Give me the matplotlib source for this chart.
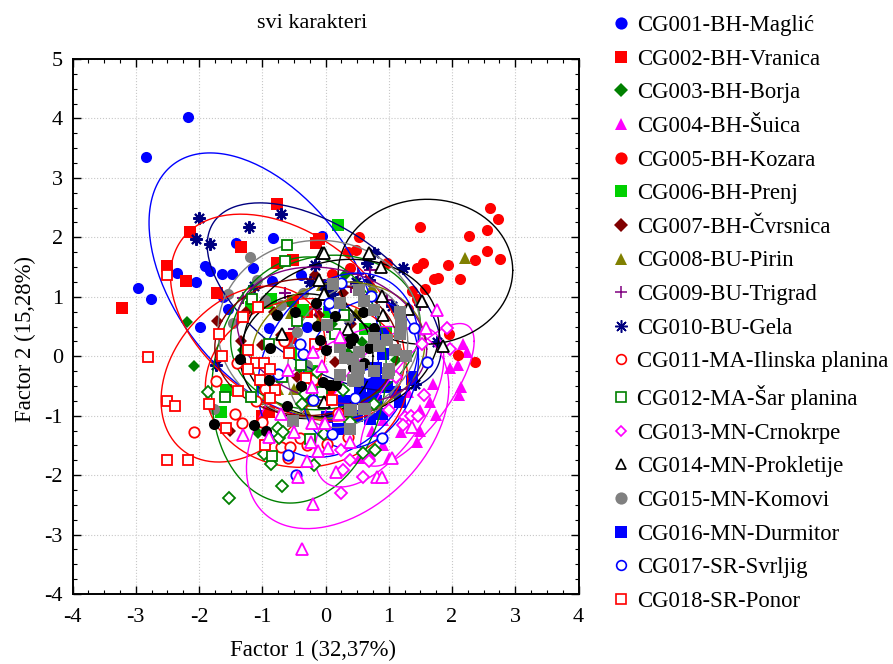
import numpy as np
import matplotlib
matplotlib.use("Agg")
import matplotlib.pyplot as plt
from matplotlib.lines import Line2D

plt.rcParams['font.family'] = ['Liberation Serif', 'DejaVu Serif']
plt.rcParams['axes.unicode_minus'] = False

names = ['CG001-BH-Maglić', 'CG002-BH-Vranica', 'CG003-BH-Borja', 'CG004-BH-Šuica',
         'CG005-BH-Kozara', 'CG006-BH-Prenj', 'CG007-BH-Čvrsnica', 'CG008-BU-Pirin',
         'CG009-BU-Trigrad', 'CG010-BU-Gela', 'CG011-MA-Ilinska planina',
         'CG012-MA-Šar planina', 'CG013-MN-Crnokrpe', 'CG014-MN-Prokletije',
         'CG015-MN-Komovi', 'CG016-MN-Durmitor', 'CG017-SR-Svrljig', 'CG018-SR-Ponor']

# factor scores
x01 = [-2.17, -2.84, -2.97, -2.76, -2.34, -1.91, -1.82, -2.05, -1.64, -1.48, -1.42, -1.15, -0.83, -0.84, -0.39, -0.05, -1.62, -1.54, -1.98, -0.9, -0.3, 0.1]
y01 = [4.02, 3.35, 1.14, 0.97, 1.40, 1.51, 1.44, 1.25, 1.39, 1.38, 1.91, 1.48, 1.99, 1.26, 1.36, 2.03, 0.99, 0.79, 0.49, 0.47, 0.5, 0.9]
x02 = [-3.22, -2.5, -2.21, -2.14, -1.33, -1.72, -0.77, -0.11, -0.15, -0.51, -0.76, -0.52, -0.3, -0.9, -1.0, 0.05, -0.25, -0.55]
y02 = [0.81, 1.52, 1.27, 2.09, 1.83, 1.07, 2.56, 1.97, 1.9, 1.62, 1.56, 0.93, 0.75, -0.93, -1.0, -0.6, -0.75, 0.3]
x03 = [-2.19, -2.08, -1.06, 1.12, 0.57, 0.31, -0.7, -0.4, 0.1, 0.35, -0.2, 0.75, -1.3, -0.55, 0.9, 0.45]
y03 = [0.58, -0.17, -1.29, -0.06, 0.24, 1.36, 0.3, -0.2, 0.55, 0.05, -0.45, 0.4, 0.1, 0.9, -0.5, -0.75]
x04 = [2.17, 2.24, 1.97, 2.1, 2.15, 2.11, 1.7, 1.66, 1.74, 1.5, 1.5, 1.2, 1.45, 0.73, 0.91, 0.91, 0.7, 0.53, 1.0, 1.3]
y04 = [0.21, 0.07, -0.19, -0.15, -0.52, -0.66, -0.46, -0.77, -0.99, -0.91, -1.25, -1.27, -1.45, -1.25, -1.08, -1.5, -1.64, -1.71, -1.72, -0.6]
x05 = [2.6, 2.73, 2.55, 2.27, 1.5, 2.56, 2.36, 2.76, 1.94, 1.54, 1.45, 2.12, 1.78, 1.72, 1.57, 1.37, 1.45, 0.97, 0.53, 0.36, 0.48, 0.38, 0.11, 1.95, 2.09, 2.37, 1.31]
y05 = [2.5, 2.31, 2.12, 2.03, 2.18, 1.77, 1.62, 1.63, 1.54, 1.57, 1.48, 1.30, 1.32, 1.30, 1.13, 1.09, 0.96, 1.56, 2.01, 1.76, 1.78, 1.49, 1.38, 0.38, 0.02, -0.1, 0.8]
x06 = [-1.65, -1.57, 0.2, 0.62, -0.86, -0.35, -1.17, -0.92, -0.55, 0.05, 0.3, -0.25, 0.95, -1.0]
y06 = [-0.93, -0.57, 2.2, 0.45, 0.97, 0.78, 0.83, 0.9, 0.05, 0.75, 0.25, -0.25, 0.4, -0.5]
x07 = [-1.72, -0.81, -1.25, -0.17, -1.34, -1.01, -1.51, 0.27, -0.7, -0.1, 0.4, -0.45, 0.15]
y07 = [0.59, 0.75, 0.75, 1.36, 0.25, 0.19, -1.25, 1.07, 0.35, 0.7, 0.55, -0.35, -0.1]
x08 = [2.21, 0.73, 0.49, -0.75, -0.5, -0.3, -0.05, -0.55, 0.15, -0.1, -0.95, -0.2]
y08 = [1.66, 1.16, 0.72, -0.55, -0.55, -0.95, 1.2, 0.72, 0.85, 0.6, -0.72, -0.75]
x09 = [-1.31, -0.64, 0.52, 0.41, 1.49, 1.2, 0.98, 0.7, -0.15, 0.1, -0.5, 0.0, 1.1]
y09 = [0.98, 1.06, 1.39, 1.17, 0.86, 0.66, 0.95, 1.45, 0.8, 0.4, 0.45, 0.15, 0.8]
x10 = [-2.0, -2.04, -1.82, -1.21, -0.71, -0.17, -0.25, -1.13, 0.77, 0.65, 1.23, 0.49, 0.68, 0.11, 1.05, 0.37, 1.76, 1.41, -1.73, -0.02, 0.0]
y10 = [2.33, 1.98, 1.88, 2.17, 2.40, 1.54, 1.25, 1.18, 1.73, 1.56, 1.48, 1.25, 1.29, 1.05, 0.84, 0.62, 0.24, -0.46, -0.14, 1.2, 1.05]
x11 = [-2.08, -1.73, -1.43, -1.32, -1.4, -1.01, -0.7, -0.56, -0.6, -0.4, -0.3, 0.02, 0.36, -0.2, -0.95, -1.1, -0.65, 0.2]
y11 = [-1.27, -0.42, -0.97, -1.13, -0.12, -1.1, -1.53, -1.53, -1.72, -1.37, -1.5, -1.47, -1.36, -0.4, -0.55, -0.75, 0.25, -0.95]
x12 = [-0.61, -0.64, -1.16, -1.59, -1.18, -0.85, -0.68, -0.38, -0.25, 0.15, -0.45, 0.3, -0.9, -0.05]
y12 = [1.87, 1.61, 0.97, -0.68, -0.68, -1.68, -0.35, -0.15, -1.39, 0.38, 0.6, 0.7, 0.2, -0.6]
x13 = [1.55, 1.25, 1.35, 1.47, 1.23, 0.24, 0.39, 0.27, 0.6, 0.69, 0.24, 1.11, 1.92, 1.97, 1.52, 1.0]
y13 = [-0.65, -1.02, -1.0, -1.01, -1.16, -1.58, -1.74, -1.92, -2.03, -1.76, -2.3, -0.35, 0.48, 0.12, 0.21, -0.9]
x13b = [-1.53, -0.68, -0.86, -0.98, -1.85, -0.75, -0.73, -0.67, -0.18, -0.03, 0.6, 0.79, -0.37, -0.32, 0.77, -0.14, 0.28, 0.39]
y13b = [-2.38, -2.19, -1.81, -1.64, -0.6, -1.2, -1.37, -1.27, -1.83, -1.30, -1.63, -1.57, -0.8, -0.63, -0.8, -0.26, -0.56, -1.1]
x14 = [-0.06, -0.1, -0.01, 0.69, 0.88, -0.03, 0.9, -0.02, 1.53, 0.91, 0.36, 1.85, 1.31, -0.69, -0.03]
y14 = [1.73, 1.29, 1.04, 1.73, 1.50, 1.73, 1.01, 1.04, 0.93, 0.69, 0.46, 0.17, 0.79, 0.38, -0.77]
x15 = [-1.2, -1.08, -1.54, -0.7, -1.46, -0.35, -1.77, -0.95, -0.45, 0.1, -0.3, 0.35, -0.6]
y15 = [1.67, 1.28, 1.04, 0.87, 0.56, 1.06, -0.88, 0.95, 0.4, 0.85, -0.15, 0.65, 0.15]
x16 = [1.37, 1.17, 1.36, 0.91, 0.89, 0.75, 0.78, 0.98, 0.65, 0.89, 0.7, 0.2, 0.02, 0.07, 0.91, 0.91, 0.8, 0.55, 0.6, 0.8, 1.1, 0.5, 0.3]
y16 = [-0.38, -0.77, -0.35, -0.41, -0.52, -0.57, -0.4, -0.52, -0.71, -0.97, -1.05, -1.23, -1.03, 0.86, 0.38, 0.04, -0.75, -0.6, -0.45, -0.2, -0.6, -1.0, -0.75]
x17 = [1.61, 0.72, 0.25, 0.13, 1.4, -0.46, -0.59, -0.35, -0.2, 0.47, 0.11, 0.89, 0.05, -0.75, 0.65, -0.4]
y17 = [-0.1, 1.01, 1.24, 0.79, 0.48, -1.99, -1.67, 0.03, -0.74, -0.71, -1.31, -1.37, 0.9, -0.3, -0.3, 0.2]
x18 = [-2.51, -1.06, -1.3, -1.69, -2.8, -2.51, -2.38, -2.5, -2.18, -1.84, -1.58, -1.64, -1.39, -1.22, -1.1, -0.98, -1.22, -0.87, -1.04, -0.8, -0.88, -0.96, -0.57, -0.31, -0.17, 0.1]
y18 = [1.37, 0.83, 0.66, 0.38, -0.01, -0.75, -0.84, -1.74, -1.75, -0.81, -1.21, 0.0, -0.58, 0.1, -0.11, -0.11, -0.21, -0.22, -0.4, -0.57, -0.7, -1.5, 0.06, -0.37, 0.21, -0.73]
# series that are drawn but not in the legend
x19 = [-1.77, -1.13, -0.94, -0.61, -0.89, -1.35, -0.38, -0.88, -0.09, 0.0, -0.04, 0.13, 0.05, 0.39, 0.44, 0.68, 0.61, -0.76, -0.48, -0.15, -0.13, 0.6, 0.77, 0.15, 0.38, 0.44, 0.07, 0.17]
y19 = [-1.14, -1.15, -1.25, -0.84, -0.4, -0.04, -0.5, 0.13, 0.27, 0.1, -0.43, -0.49, -0.49, 0.27, 0.3, 0.14, -0.12, 0.70, 0.74, 0.89, 0.51, 0.75, 0.47, 0.67, 0.22, -0.18, -0.49, -0.49]
x20 = [0.53, 0.61, 0.77, 1.18, 1.2, 1.18, 0.77, 0.97, 0.84, 1.1, 1.27, 0.53, 0.23, 0.31, 0.44, 0.53, 0.77, 1.0, 0.23, 0.47, 0.99, 0.02, 0.12, 0.23, 0.5, 0.52, 1.0, 0.39, 0.61, 0.39, -0.52, 0.44, 0.63, 0.41]
y20 = [1.12, 0.93, 0.77, 0.75, 0.54, 0.37, 0.30, 0.27, 0.18, 0.10, 0.0, 0.07, 0.16, -0.03, -0.04, -0.2, -0.25, -0.22, -0.32, -0.41, -0.29, 0.52, 1.22, 0.89, -0.21, -0.4, -0.24, -0.91, -0.88, -1.22, -1.09, -0.4, -0.88, -0.91]
x21 = [-0.19, -0.37, 0.17, 0.82, 0.9, 1.05, 1.37, 0.39, 0.04, -0.12, -0.23, -0.3, -0.21, -0.01, 0.22, -0.2, -0.05, -0.21, 0.23, -1.3, -0.89, -0.5, -0.44, -0.6, -0.7, 1.59, 1.77]
y21 = [-2.49, -3.24, -1.95, -2.03, -2.03, -1.71, -1.19, -1.44, -1.54, -1.59, -1.45, -1.77, -1.12, -1.13, -0.97, 0.07, -0.17, -0.52, 0.33, -1.32, -1.36, -1.27, -2.03, -0.24, -0.97, 0.48, 0.77]

xs = [x01, x02, x03, x04, x05, x06, x07, x08, x09, x10, x11, x12, x13, x14, x15, x16, x17, x18]
ys = [y01, y02, y03, y04, y05, y06, y07, y08, y09, y10, y11, y12, y13, y14, y15, y16, y17, y18]

markers = ['o', 's', 'D', '^', 'o', 's', 'D', '^', '+', (8, 2, 0), 'o', 's', 'D', '^', 'o', 's', 'o', 's']
colors = ['#0000ff', '#ff0000', '#008000', '#ff00ff', '#ff0000', '#00d000', '#800000', '#808000',
          '#800080', '#000080', '#ff0000', '#008000', '#ff00ff', '#000000', '#808080', '#0000ff',
          '#0000ff', '#ff0000']
sizes = [8, 8, 6, 8.5, 8, 8, 6, 8.5, 8, 8, 7.5, 7.2, 6, 8, 8, 8, 7.5, 7.2]
hollow = [0, 0, 0, 0, 0, 0, 0, 0, 0, 0, 1, 1, 1, 1, 0, 0, 1, 1]

# confidence ellipses: centre x, centre y, half width, half height, correlation, colour
ell_cx = [-0.97, -0.02, -0.6, -1.3, -0.3, -0.42, 0.0, 0.35, 0.85, 1.45, 1.58, 0.25, -0.3, -0.1, 0.35, 0.2, 0.1, -0.3, 0.55, 0.2]
ell_cy = [1.2, 1.0, 0.65, -0.3, -0.45, -0.4, 0.4, -1.2, -0.85, -0.65, 1.42, 0.3, 0.0, 0.45, 0.0, 0.1, 0.35, 0.15, -0.3, -0.15]
ell_sx = [1.82, 1.85, 1.85, 1.3, 1.6, 1.38, 1.5, 1.6, 1.02, 0.9, 1.38, 1.55, 1.05, 1.6, 0.95, 1.37, 1.5, 1.45, 0.92, 1.27]
ell_sy = [2.22, 1.58, 1.74, 1.48, 1.42, 2.07, 1.3, 1.7, 1.35, 1.2, 1.22, 1.33, 1.05, 1.5, 1.2, 1.15, 1.15, 1.15, 1.25, 1.55]
ell_r = [-0.47, -0.55, -0.4, 0.3, 0.05, 0.1, 0.1, 0.4, 0.6, 0.75, 0.02, 0.1, 0.0, 0.0, 0.2, 0.1, -0.2, 0.0, 0.2, 0.25]
ell_col = ['#0000ff', '#000080', '#ff0000', '#ff0000', '#ff0000', '#008000', '#008000', '#ff00ff',
           '#ff00ff', '#ff00ff', '#000000', '#000000', '#000000', '#808080', '#808080', '#808000',
           '#800080', '#800000', '#0000ff', '#0000ff']

fig = plt.figure(figsize=(8.93, 6.64), dpi=100)
ax = fig.add_axes([72.5 / 893, 1 - 594 / 664, 506 / 893, 535 / 664])


def draw(x, y, m, c, s, h, z):
    if m == '+' or isinstance(m, tuple):
        ax.plot(x, y, ls='none', marker=m, ms=s + 1, mew=1.5, color=c, zorder=z)
    elif h:
        ax.plot(x, y, ls='none', marker=m, ms=s, mew=1.3, mfc='white', mec=c, zorder=z)
    else:
        ax.plot(x, y, ls='none', marker=m, ms=s, mew=0, color=c, zorder=z)


# filled marks go under the ellipses, open ones and the last series over them
for i in range(18):
    draw(xs[i], ys[i], markers[i], colors[i], sizes[i], hollow[i], 3 + i * 0.01 if not hollow[i] else 5 + i * 0.01)
draw(x13b, y13b, 'D', '#008000', 6, 1, 5.1)
draw(x19, y19, 'o', '#000000', 8, 0, 5.3)
draw(x20, y20, 's', '#808080', 8.3, 0, 5.4)
draw(x21, y21, '^', '#ff00ff', 8, 1, 5.5)

t = np.linspace(0, 2 * np.pi, 200)
for i in range(len(ell_cx)):
    ex = ell_cx[i] + ell_sx[i] * np.cos(t)
    ey = ell_cy[i] + ell_sy[i] * (ell_r[i] * np.cos(t) + np.sqrt(1 - ell_r[i] ** 2) * np.sin(t))
    ax.plot(ex, ey, color=ell_col[i], lw=1.0, zorder=4)

ax.set_xlim(-4, 4)
ax.set_ylim(-4, 5)
ax.set_xticks(np.arange(-4, 5))
ax.set_yticks(np.arange(-4, 6))
ax.set_xticks(np.arange(-4, 4.01, 0.25), minor=True)
ax.set_yticks(np.arange(-4, 5.01, 0.25), minor=True)
ax.tick_params(which='major', direction='in', length=6, width=1, top=True, right=True, labelsize=16, pad=7)
ax.tick_params(axis='x', which='major', pad=10)
ax.tick_params(which='minor', direction='in', length=3, width=0.8, top=True, right=True)
ax.grid(True, which='major', color='#c8c8c8', ls=':', lw=0.8)
ax.set_axisbelow(True)
for sp in ax.spines.values():
    sp.set_linewidth(1.4)

ax.set_title('svi karakteri', fontsize=16, pad=22, x=0.473)
ax.set_xlabel('Factor 1 (32,37%)', fontsize=16.4, labelpad=9, x=0.475)
ax.set_ylabel('Factor 2 (15,28%)', fontsize=16.4, labelpad=6, y=0.476)

handles = []
for i in range(18):
    if markers[i] == '+' or isinstance(markers[i], tuple):
        handles.append(Line2D([], [], ls='none', marker=markers[i], ms=9, mew=1.1, color=colors[i]))
    elif hollow[i]:
        handles.append(Line2D([], [], ls='none', marker=markers[i], ms=sizes[i] - 0.5, mew=1.2, mfc='white', mec=colors[i]))
    else:
        handles.append(Line2D([], [], ls='none', marker=markers[i], ms=sizes[i] + 0.8, mew=0, color=colors[i]))
fig.legend(handles, names, loc='upper left', bbox_to_anchor=(609.5 / 893, 1 - 15 / 664), frameon=False,
           fontsize=16.4, labelspacing=0.555, handlelength=1, handletextpad=0.22, borderpad=0, borderaxespad=0)

fig.savefig('out.png', dpi=100)
